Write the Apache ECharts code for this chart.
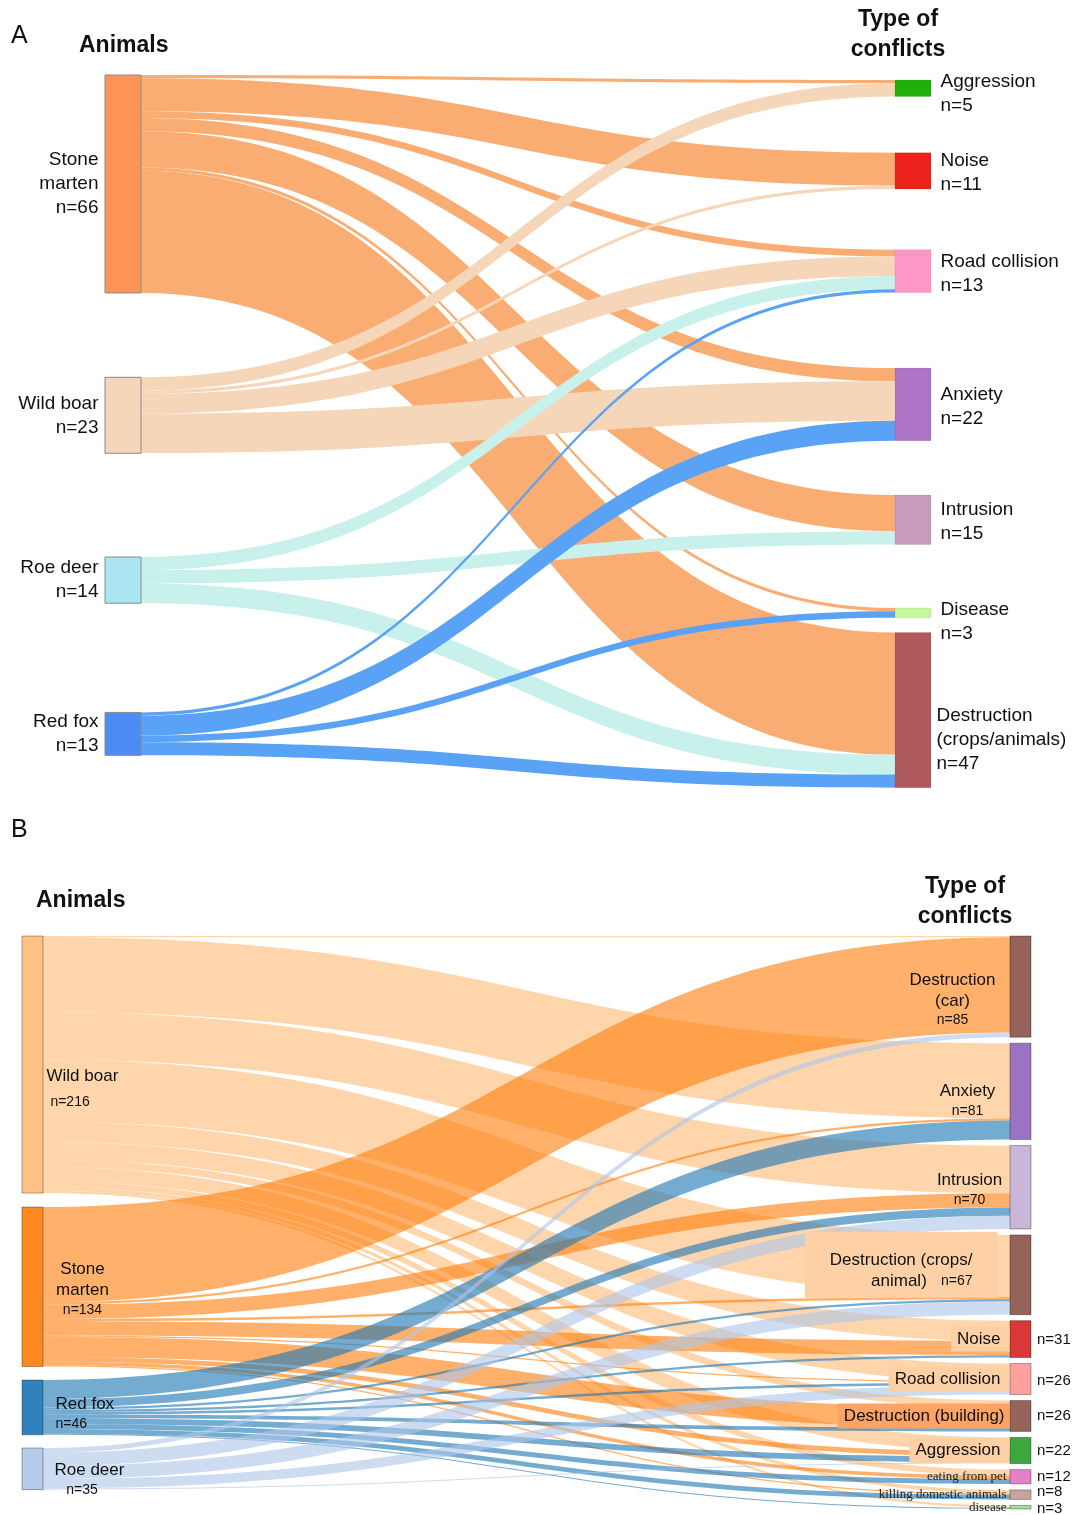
<!DOCTYPE html>
<html>
<head>
<meta charset="utf-8">
<script src="https://cdn.jsdelivr.net/npm/echarts@6/dist/echarts.min.js"></script>
<style>
  html, body { margin: 0; padding: 0; background: #fff; }
  #chart { width: 1076px; height: 1515px; }
</style>
</head>
<body>
<div id="chart"></div>
<script>
// ---- panel A ----
const animalsA = ['Stone marten', 'Wild boar', 'Roe deer', 'Red fox'];
const animalCountA = [66, 23, 14, 13];
const conflictsA = ['Aggression', 'Noise', 'Road collision', 'Anxiety', 'Intrusion', 'Disease', 'Destruction (crops/animals)'];
const conflictCountA = [5, 11, 13, 22, 15, 3, 47];
// rows = animals, cols = conflicts
const flowsA = [
  [1, 10, 2, 4, 11, 1, 37],
  [4, 1, 6, 12, 0, 0, 0],
  [0, 0, 4, 0, 4, 0, 6],
  [0, 0, 1, 6, 0, 2, 4]
];

// ---- panel B ----
const animalsB = ['Wild boar', 'Stone marten', 'Red fox', 'Roe deer'];
const animalCountB = [216, 134, 46, 35];
const conflictsB = ['Destruction (car)', 'Anxiety', 'Intrusion', 'Destruction (crops/animal)', 'Noise', 'Road collision',
  'Destruction (building)', 'Aggression', 'eating from pet', 'killing domestic animals', 'disease'];
const conflictCountB = [85, 81, 70, 67, 31, 26, 26, 22, 12, 8, 3];
const flowsB = [
  [1, 63, 40, 52, 17, 15, 6, 12, 5, 3, 2],
  [80, 2, 12, 2, 12, 1, 17, 4, 3, 1, 0],
  [0, 16, 7, 2, 2, 2, 3, 5, 4, 4, 1],
  [4, 0, 11, 11, 0, 8, 0, 1, 0, 0, 0]
];

// ---- styles / layout ----
const nodeColorA = {
  'Stone marten': '#FF9457', 'Wild boar': '#F5D6B8', 'Roe deer': '#ABE5F0', 'Red fox': '#4D8BF5',
  'Aggression': '#22B00C', 'Noise': '#ED221C', 'Road collision': '#FF96C8', 'Anxiety': '#AE74C6',
  'Intrusion': '#C89ABC', 'Disease': '#C9F89A', 'Destruction (crops/animals)': '#AF5B5E'
};
const linkColorA = { 'Stone marten': '#FAAD72', 'Wild boar': '#F5D6B8', 'Roe deer': '#C8F1EC', 'Red fox': '#5AA2F5' };
const breakA = { 'Stone marten': 'Stone\nmarten', 'Destruction (crops/animals)': 'Destruction\n(crops/animals)' };
const localYA = { left: [0, 0.424, 0.676, 0.894], right: [0.007, 0.109, 0.245, 0.411, 0.589, 0.7475, 0.782] };
const labelShiftA = [6, 2, 3, 2, 2, 9, 30];

const colorB = {
  'Wild boar': '#ffbb78', 'Stone marten': '#ff7f0e', 'Red fox': '#1f77b4', 'Roe deer': '#aec7e8',
  'Destruction (car)': '#8c564b', 'Anxiety': '#9467bd', 'Intrusion': '#c5b0d5', 'Destruction (crops/animal)': '#8c564b',
  'Noise': '#d62728', 'Road collision': '#ff9896', 'Destruction (building)': '#8c564b', 'Aggression': '#2ca02c',
  'eating from pet': '#e377c2', 'killing domestic animals': '#c49c94', 'disease': '#98df8a'
};
const localYB = [0, 0.473, 0.775, 0.8935];
const countShiftB = [0, 0, 0, 0, 1, 2, 0, 0, 0, -3, 2];

const richB = {
  a: { fontSize: 17, lineHeight: 21, color: '#111' },
  b: { fontSize: 14, lineHeight: 18, color: '#111' },
  s: { fontSize: 13, fontFamily: 'Liberation Serif', color: '#222' }
};

function leftLabelB(i) {
  const n = 'n=' + animalCountB[i];
  if (i === 0) return { position: 'right', distance: 3, offset: [0, 27], formatter: '{a|Wild boar}\n{c| ' + n + '}',
    rich: { c: { fontSize: 14, lineHeight: 30, color: '#111' } } };
  if (i === 1) return { position: 'right', distance: 5, align: 'center', offset: [34, 2], formatter: '{a|Stone}\n{a|marten}\n{b|' + n + '}' };
  if (i === 2) return { position: 'right', distance: 12, offset: [0, 6], formatter: '{a|Red fox}\n{b|' + n + '}' };
  return { position: 'right', distance: 11, offset: [0, 11], formatter: '{a|Roe deer}\n{b|   ' + n + '}' };
}

function rightLabelB(j) {
  const n = 'n=' + conflictCountB[j];
  const peach = '#FDD1A5';
  switch (j) {
    case 0: return { position: 'left', distance: 57, align: 'center', offset: [0, 13], formatter: '{a|Destruction}\n{a|(car)}\n{b|' + n + '}' };
    case 1: return { position: 'left', distance: 42, align: 'center', offset: [0, 9], formatter: '{a|Anxiety}\n{b|' + n + '}' };
    case 2: return { position: 'left', distance: 40, align: 'center', offset: [0, 2], formatter: '{a|Intrusion}\n{b|' + n + '}' };
    case 3: return { position: 'left', distance: 12, backgroundColor: peach, padding: [18, 25, 6, 25], offset: [0, -10],
      formatter: '{a|Destruction (crops/}\n{a|animal)   }{b|' + n + '}' };
    case 4: case 5: case 7:
      return { position: 'left', distance: 0, backgroundColor: peach, padding: [2, 9, 2, 6], formatter: '{a|' + conflictsB[j] + '}' };
    case 6:
      return { position: 'left', distance: 0, backgroundColor: '#FCA466', padding: [2, 5, 2, 6], formatter: '{a|' + conflictsB[j] + '}' };
    default:
      return { position: 'left', distance: 3, formatter: '{s|' + conflictsB[j] + '}' };
  }
}

// panel A data
const nodesA = animalsA.map((name, i) => ({
  name, localY: localYA.left[i],
  itemStyle: { color: nodeColorA[name] },
  label: { position: 'left', distance: 6, align: 'right', formatter: (breakA[name] || name) + '\nn=' + animalCountA[i] }
})).concat(conflictsA.map((name, j) => ({
  name, localY: localYA.right[j],
  itemStyle: { color: nodeColorA[name], borderColor: 'rgba(0,0,0,0.08)' },
  label: { position: 'right', distance: j === 6 ? 5 : 9, align: 'left', offset: [0, labelShiftA[j]],
    formatter: (breakA[name] || name) + '\nn=' + conflictCountA[j] }
})));
const linksA = [];
flowsA.forEach((row, i) => row.forEach((v, j) => {
  if (v > 0) linksA.push({ source: animalsA[i], target: conflictsA[j], value: v, lineStyle: { color: linkColorA[animalsA[i]] } });
}));

// panel B data
function nodesB(countLabels) {
  return animalsB.map((name, i) => ({
    name, localY: localYB[i],
    itemStyle: { color: colorB[name] },
    label: countLabels ? { show: false } : leftLabelB(i)
  })).concat(conflictsB.map((name, j) => ({
    name,
    itemStyle: { color: colorB[name] },
    label: countLabels
      ? { show: j >= 4, position: 'right', distance: 6, fontSize: 15, color: '#111', offset: [0, countShiftB[j]],
          formatter: 'n=' + conflictCountB[j] }
      : rightLabelB(j)
  })));
}
const linksB = [];
flowsB.forEach((row, i) => row.forEach((v, j) => {
  if (v > 0) linksB.push({ source: animalsB[i], target: conflictsB[j], value: v, lineStyle: { color: colorB[animalsB[i]] } });
}));

const chart = echarts.init(document.getElementById('chart'));

const baseB = {
  type: 'sankey',
  left: 22, top: 936, width: 1009, height: 573,
  nodeWidth: 21, nodeGap: 6,
  layoutIterations: 0,
  draggable: false,
  emphasis: { disabled: true }
};

const option = {
  animation: false,
  textStyle: { fontFamily: 'Liberation Sans, Arial, sans-serif' },
  graphic: [
    { type: 'text', x: 11, y: 24, style: { text: 'A', font: '25px Liberation Sans', fill: '#111' } },
    { type: 'text', x: 79, y: 34, style: { text: 'Animals', font: 'bold 23px Liberation Sans', fill: '#111' } },
    { type: 'text', x: 898, y: 5, style: { text: 'Type of\nconflicts', font: 'bold 23px Liberation Sans', fill: '#111', align: 'center', lineHeight: 30 } },
    { type: 'text', x: 11, y: 818, style: { text: 'B', font: '25px Liberation Sans', fill: '#111' } },
    { type: 'text', x: 36, y: 889, style: { text: 'Animals', font: 'bold 23px Liberation Sans', fill: '#111' } },
    { type: 'text', x: 965, y: 872, style: { text: 'Type of\nconflicts', font: 'bold 23px Liberation Sans', fill: '#111', align: 'center', lineHeight: 30 } }
  ],
  series: [
    {
      type: 'sankey',
      left: 105, top: 75, width: 826, height: 713,
      nodeWidth: 36, nodeGap: 55,
      layoutIterations: 0,
      draggable: false,
      emphasis: { disabled: true },
      itemStyle: { borderColor: '#8a8a8a', borderWidth: 1 },
      lineStyle: { opacity: 1, curveness: 0.5 },
      label: { fontSize: 19, lineHeight: 24, color: '#111' },
      data: nodesA,
      links: linksA
    },
    Object.assign({}, baseB, {
      z: 1,
      silent: true,
      itemStyle: { opacity: 0 },
      lineStyle: { opacity: 0 },
      data: nodesB(true),
      links: linksB.map(l => ({ source: l.source, target: l.target, value: l.value }))
    }),
    Object.assign({}, baseB, {
      z: 2,
      itemStyle: { opacity: 0.92, borderColor: 'rgba(0,0,0,0.35)', borderWidth: 1 },
      lineStyle: { opacity: 0.62, curveness: 0.5 },
      label: { color: '#111', rich: richB },
      data: nodesB(false),
      links: linksB
    })
  ]
};

chart.setOption(option);
</script>
</body>
</html>
